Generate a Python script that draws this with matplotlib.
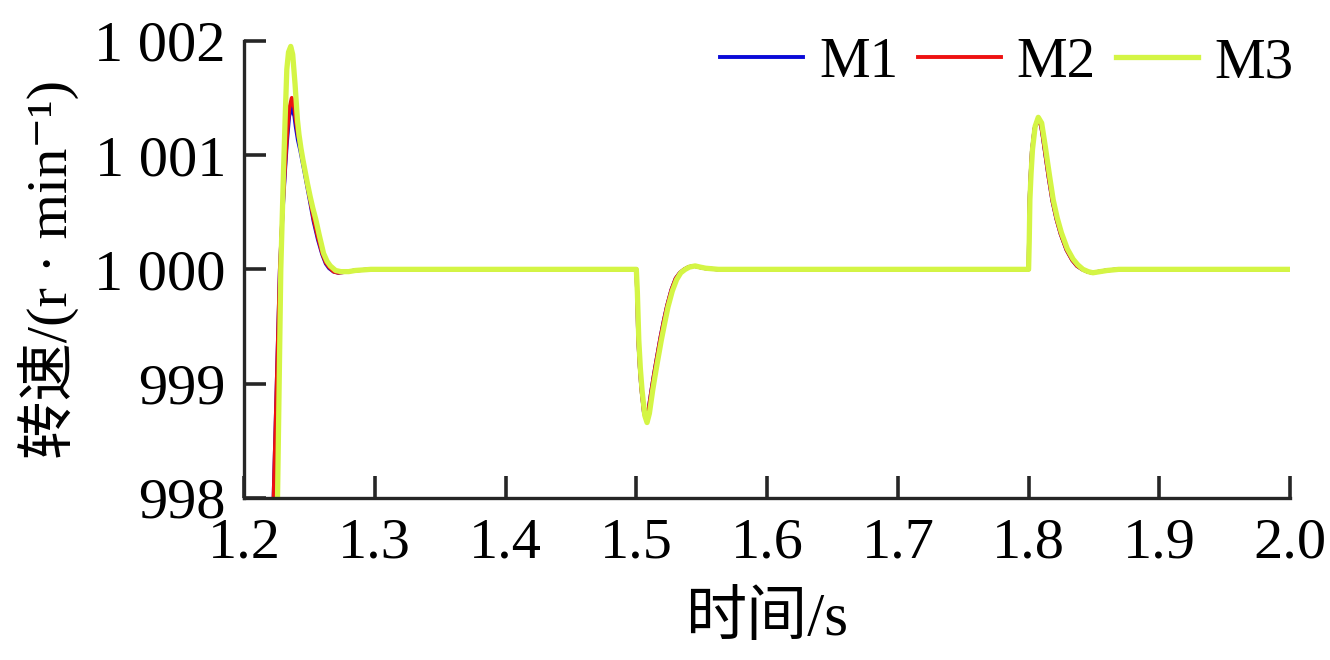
import matplotlib
matplotlib.use('Agg')
import matplotlib.pyplot as plt

plt.rcParams['font.family'] = ['Liberation Serif', 'Noto Sans CJK SC', 'DejaVu Serif']
plt.rcParams['font.size'] = 42

# --- data (time in s, speed in r/min) ---
# event 1: start-up overshoot around 1.23 s
t_a_12 = [1.2200, 1.2226, 1.2250, 1.2274, 1.2294, 1.2312, 1.2327, 1.2345, 1.2365, 1.2385,
          1.2395, 1.2412, 1.2430, 1.2447, 1.2464, 1.2482, 1.2500, 1.2532, 1.2565, 1.2598,
          1.2625, 1.2650, 1.2685, 1.2720, 1.2790, 1.2850, 1.2970]
m1_a = [996.9, 998.0, 999.0, 1000.0, 1000.48, 1000.84, 1001.10, 1001.34, 1001.42, 1001.34,
        1001.25, 1001.13, 1001.04, 1000.94, 1000.84, 1000.73, 1000.62, 1000.42, 1000.26, 1000.13,
        1000.05, 1000.01, 999.98, 999.97, 999.98, 999.99, 1000.0]
m2_a = [996.9, 998.0, 999.0, 1000.0, 1000.50, 1000.87, 1001.15, 1001.40, 1001.50, 1001.41,
        1001.31, 1001.18, 1001.08, 1000.97, 1000.87, 1000.75, 1000.64, 1000.44, 1000.28, 1000.14,
        1000.06, 1000.02, 999.98, 999.97, 999.98, 999.99, 1000.0]
t_a_3 = [1.2200, 1.2256, 1.2281, 1.2302, 1.2314, 1.2327, 1.2340, 1.2357, 1.2372, 1.2390,
         1.2408, 1.2420, 1.2435, 1.2450, 1.2465, 1.2485, 1.2505, 1.2525, 1.2548, 1.2575,
         1.2608, 1.2635, 1.2660, 1.2700, 1.2740, 1.2800, 1.2850, 1.2970]
m3_a = [992.0, 998.0, 1000.0, 1000.87, 1001.31, 1001.75, 1001.90, 1001.95, 1001.88, 1001.62,
        1001.31, 1001.18, 1001.06, 1000.96, 1000.87, 1000.75, 1000.64, 1000.54, 1000.44, 1000.30,
        1000.14, 1000.07, 1000.03, 999.99, 999.98, 999.98, 999.99, 1000.0]

# event 2: load step dip at 1.5 s
t_b_12 = [1.5000, 1.5006, 1.5014, 1.5026, 1.5038, 1.5058, 1.5075, 1.5093, 1.5118, 1.5135,
          1.5153, 1.5184, 1.5210, 1.5235, 1.5268, 1.5301, 1.5333, 1.5367, 1.5400, 1.5443,
          1.5480, 1.5523, 1.5620]
m12_b = [1000.0, 999.80, 999.40, 999.15, 998.96, 998.75, 998.69, 998.77, 998.96, 999.08,
         999.20, 999.40, 999.55, 999.68, 999.82, 999.92, 999.97, 1000.0, 1000.02, 1000.03,
         1000.02, 1000.01, 1000.0]
t_b_3 = [1.5000, 1.5008, 1.5019, 1.5031, 1.5044, 1.5065, 1.5082, 1.5100, 1.5125, 1.5142,
         1.5160, 1.5191, 1.5217, 1.5242, 1.5275, 1.5308, 1.5340, 1.5374, 1.5407, 1.5450,
         1.5487, 1.5530, 1.5627]
m3_b = [1000.0, 999.80, 999.38, 999.13, 998.94, 998.72, 998.66, 998.74, 998.94, 999.06,
        999.18, 999.38, 999.53, 999.67, 999.81, 999.91, 999.97, 1000.0, 1000.02, 1000.03,
        1000.02, 1000.01, 1000.0]

# event 3: load release peak at 1.8 s
t_c_12 = [1.8000, 1.8003, 1.8007, 1.8015, 1.8025, 1.8045, 1.8069, 1.8095, 1.8110, 1.8125,
          1.8140, 1.8154, 1.8182, 1.8213, 1.8245, 1.8290, 1.8334, 1.8370, 1.8410, 1.8450,
          1.8486, 1.8540, 1.8594, 1.8684, 2.0]
m12_c = [1000.0, 1000.25, 1000.60, 1000.82, 1001.03, 1001.23, 1001.31, 1001.26, 1001.15, 1001.03,
         1000.91, 1000.80, 1000.60, 1000.44, 1000.31, 1000.17, 1000.08, 1000.03, 1000.0, 999.98,
         999.97, 999.98, 999.99, 1000.0, 1000.0]
t_c_3 = [1.8000, 1.8005, 1.8010, 1.8019, 1.8030, 1.8050, 1.8074, 1.8100, 1.8115, 1.8131,
         1.8146, 1.8160, 1.8188, 1.8219, 1.8251, 1.8296, 1.8340, 1.8376, 1.8416, 1.8456,
         1.8492, 1.8546, 1.8600, 1.8690, 2.0]
m3_c = [1000.0, 1000.25, 1000.61, 1000.84, 1001.05, 1001.25, 1001.33, 1001.28, 1001.17, 1001.05,
        1000.93, 1000.82, 1000.61, 1000.45, 1000.32, 1000.18, 1000.09, 1000.04, 1000.0, 999.98,
        999.97, 999.98, 999.99, 1000.0, 1000.0]

t12 = t_a_12 + t_b_12 + t_c_12
t3 = t_a_3 + t_b_3 + t_c_3
m1 = m1_a + m12_b + m12_c
m2 = m2_a + m12_b + m12_c
m3 = m3_a + m3_b + m3_c

xticks = [1.2, 1.3, 1.4, 1.5, 1.6, 1.7, 1.8, 1.9, 2.0]
yticks = [998, 999, 1000, 1001, 1002]
ytick_labels = ['998', '999', '1 000', '1 001', '1 002']

fig = plt.figure(figsize=(13.3, 6.6), dpi=100)
ax = fig.add_axes([0.1835, 0.2455, 0.7865, 0.6928])

ax.plot(t12, m1, color='#0a0ad8', lw=2.8, label='M1')
ax.plot(t12, m2, color='#ee1111', lw=2.8, label='M2')
ax.plot(t3, m3, color='#d4f545', lw=3.8, label='M3')

ax.set_xlim(1.2, 2.0)
ax.set_ylim(998, 1002)
ax.set_xticks(xticks)
ax.set_xticklabels([f'{v:.1f}' for v in xticks])
ax.set_yticks(yticks)
ax.set_yticklabels(ytick_labels)

for s in ['top', 'right']:
    ax.spines[s].set_visible(False)
for s in ['left', 'bottom']:
    ax.spines[s].set_linewidth(2.4)
    ax.spines[s].set_color('#262626')
ax.tick_params(axis='both', direction='in', length=16, width=2.6, color='#262626',
               labelsize=42)
ax.tick_params(axis='y', pad=13)
ax.tick_params(axis='x', pad=14)

ax.set_xlabel('时间/s', fontsize=44, labelpad=16)
ax.set_ylabel('转速/(r · min⁻¹)', fontsize=42, labelpad=11)

ax.legend(loc='upper right', bbox_to_anchor=(1.003, 1.0075), ncol=3, frameon=False,
          handlelength=1.45, handletextpad=0.28, columnspacing=0.35, borderpad=0,
          borderaxespad=0, fontsize=41)

fig.savefig('out.png', dpi=100)
